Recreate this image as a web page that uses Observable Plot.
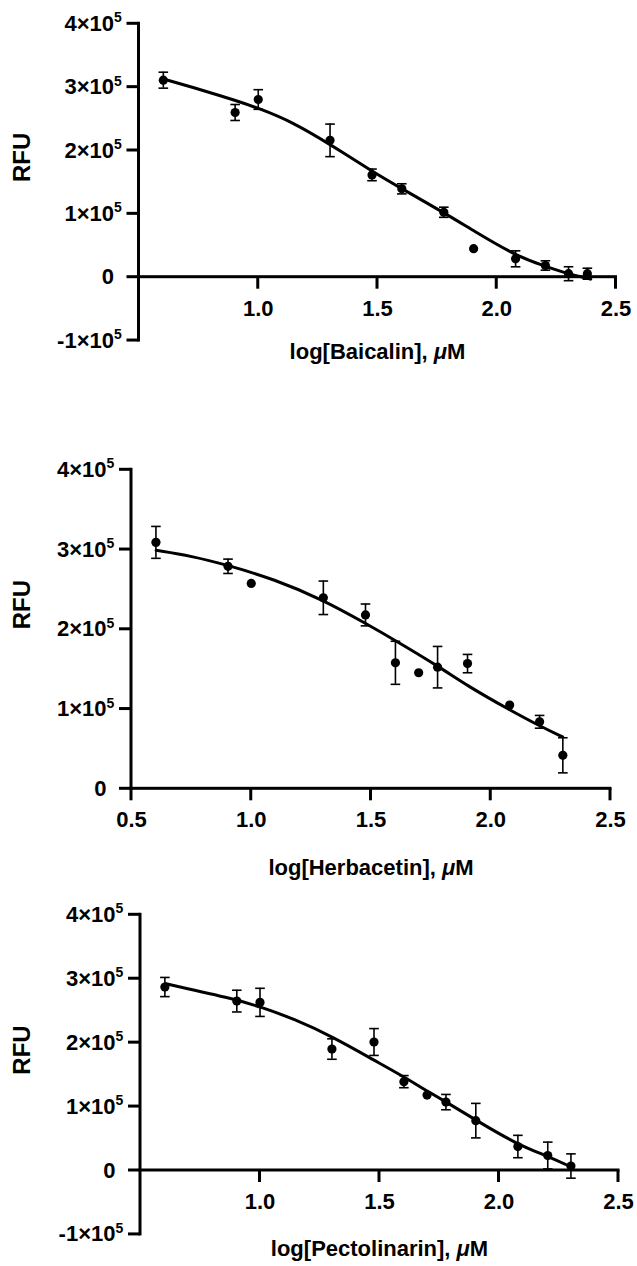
<!DOCTYPE html>
<html>
<head>
<meta charset="utf-8">
<script src="https://cdn.jsdelivr.net/npm/d3@7"></script>
<script src="https://cdn.jsdelivr.net/npm/@observablehq/plot@0.6"></script>
<style>
html, body { margin: 0; padding: 0; background: #fff; }
#chart svg { display: block; }
</style>
</head>
<body>
<div id="chart"></div>
<script>
// ---------- data ----------
// Panel 1: Baicalin
const xBaicalin   = [0.602, 0.903, 1.000, 1.301, 1.477, 1.602, 1.778, 1.903, 2.079, 2.204, 2.301, 2.380];
const rfuBaicalin = [311000, 260000, 280500, 216000, 161500, 139500, 102500, 45000, 29000, 18500, 5500, 5500];
const sdBaicalin  = [12600, 12600, 15500, 25700, 9200, 8000, 8000, 0, 12600, 7400, 11000, 8700];
const fitXBaicalin = [0.601, 0.786, 0.905, 1.000, 1.149, 1.300, 1.478, 1.600, 1.778, 1.904, 2.079, 2.204, 2.302, 2.393];
const fitYBaicalin = [313000, 293000, 279000, 267000, 244000, 210000, 167000, 140000, 102000, 73000, 34000, 17000, 5000, -3000];

// Panel 2: Herbacetin
const xHerbacetin   = [0.602, 0.903, 1.000, 1.301, 1.477, 1.602, 1.699, 1.778, 1.903, 2.079, 2.204, 2.301];
const rfuHerbacetin = [309000, 279000, 257500, 239500, 218000, 158000, 145500, 152500, 157000, 105000, 84000, 42000];
const sdHerbacetin  = [20000, 9000, 0, 21000, 13700, 27000, 0, 26000, 11500, 0, 8000, 22000];
const fitXHerbacetin = [0.603, 0.750, 0.906, 1.094, 1.300, 1.480, 1.602, 1.790, 1.903, 2.078, 2.203, 2.300];
const fitYHerbacetin = [299000, 292000, 280000, 263000, 237000, 207000, 186000, 152000, 129000, 99000, 79000, 65000];

// Panel 3: Pectolinarin
const xPectolinarin   = [0.602, 0.903, 1.000, 1.301, 1.477, 1.602, 1.699, 1.778, 1.903, 2.079, 2.204, 2.301];
const rfuPectolinarin = [287000, 265000, 263000, 190000, 201000, 139000, 118000, 107000, 78000, 37500, 23400, 7000];
const sdPectolinarin  = [15000, 17000, 22000, 16000, 21000, 9500, 0, 12000, 27000, 17500, 21000, 19000];
const fitXPectolinarin = [0.607, 0.907, 1.000, 1.144, 1.305, 1.480, 1.605, 1.700, 1.780, 1.907, 2.080, 2.207, 2.305];
const fitYPectolinarin = [292000, 267000, 256000, 237000, 209000, 172000, 146000, 124000, 107000, 78000, 40000, 22000, 5000];

// axis ticks and labels
const yTicksWithNegative = [-100000, 0, 100000, 200000, 300000, 400000];
const yTicksPositive     = [0, 100000, 200000, 300000, 400000];
const xTicksFrom1 = [1.0, 1.5, 2.0, 2.5];
const xTicksFrom05 = [0.5, 1.0, 1.5, 2.0, 2.5];
const compounds = ["Baicalin", "Herbacetin", "Pectolinarin"];
const yAxisTitle = "RFU";
const exponent = "5";
const unitMu = "μ";
const unitM = "M";

// ---------- layout (pixels) ----------
const panels = [
  {name: compounds[0], xs: xBaicalin, ys: rfuBaicalin, sd: sdBaicalin, fx: fitXBaicalin, fy: fitYBaicalin,
   yTicks: yTicksWithNegative, xTicks: xTicksFrom1, yMin: -100000,
   height: 380, ml: 138.5, mr: 21.5, mt: 23.3, mb: 103.3, titleDy: 82, rfuDy: 31.5},
  {name: compounds[1], xs: xHerbacetin, ys: rfuHerbacetin, sd: sdHerbacetin, fx: fitXHerbacetin, fy: fitYHerbacetin,
   yTicks: yTicksPositive, xTicks: xTicksFrom05, yMin: 0,
   height: 510, ml: 131, mr: 27, mt: 89.3, mb: 101.7, titleDy: 86, rfuDy: 0},
  {name: compounds[2], xs: xPectolinarin, ys: rfuPectolinarin, sd: sdPectolinarin, fx: fitXPectolinarin, fy: fitYPectolinarin,
   yTicks: yTicksWithNegative, xTicks: xTicksFrom1, yMin: -100000,
   height: 376, ml: 140, mr: 19, mt: 24.3, mb: 96, titleDy: 85, rfuDy: 32}
];

const capSymbol = {
  draw(context, size) {
    const h = Math.sqrt(size / Math.PI);
    context.moveTo(-h, 0);
    context.lineTo(h, 0);
  }
};

const fontFamily = "'Liberation Sans', Arial, Helvetica, sans-serif";
const measure = document.createElement("canvas").getContext("2d");
const AX = 1.5;   // half of the 3px axis line width
const TICK = 12;  // tick length in px

function makePanel(p) {
  const pts = p.xs.map((x, i) => ({x, y: p.ys[i], sd: p.sd[i]}));
  const bars = pts.filter(d => d.sd > 0);
  const caps = bars.flatMap(d => [{x: d.x, y: d.y + d.sd}, {x: d.x, y: d.y - d.sd}]);
  const fit = p.fx.map((x, i) => ({x, y: p.fy[i]}));
  const titleMain = `log[${p.name}],`;

  measure.font = `bold 22px ${fontFamily}`;
  const wA = measure.measureText(titleMain).width;
  const wSp = measure.measureText(" ").width;
  const wM = measure.measureText(unitM).width;
  measure.font = `italic bold 22px ${fontFamily}`;
  const wMu = measure.measureText(unitMu).width;
  const left = -(wA + wSp + wMu + wM) / 2;

  return Plot.plot({
    width: 637,
    height: p.height,
    marginLeft: p.ml, marginRight: p.mr, marginTop: p.mt, marginBottom: p.mb,
    x: {domain: [0.5, 2.5], axis: null, label: null},
    y: {domain: [0, 400000], axis: null, label: null},
    style: {fontFamily, fontWeight: "bold", fontSize: "22px", color: "black", background: "white", overflow: "visible"},
    marks: [
      // axis lines as filled bars (3px)
      Plot.rect([0], {x1: 0.5, x2: 0.5, y1: p.yMin, y2: 400000, fill: "black",
        insetLeft: -AX, insetRight: -AX, insetTop: -AX, insetBottom: -AX}),
      Plot.rect([0], {x1: 0.5, x2: 2.5, y1: 0, y2: 0, fill: "black",
        insetLeft: -AX, insetRight: -AX, insetTop: -AX, insetBottom: -AX}),
      // tick marks
      Plot.rect(p.yTicks, {x1: 0.5, x2: 0.5, y1: d => d, y2: d => d, fill: "black",
        insetLeft: -TICK, insetRight: 0, insetTop: -AX, insetBottom: -AX}),
      Plot.rect(p.xTicks, {x1: d => d, x2: d => d, y1: 0, y2: 0, fill: "black",
        insetLeft: -AX, insetRight: -AX, insetTop: 0, insetBottom: -TICK}),
      // tick labels
      Plot.axisY(p.yTicks, {anchor: "left", tickSize: 0, tickPadding: 25, label: null,
        tickFormat: d => d === 0 ? "0" : `${d / 100000}×10`}),
      Plot.text(p.yTicks.filter(d => d !== 0), {y: d => d, frameAnchor: "left", text: () => exponent,
        textAnchor: "start", dx: -25, dy: -6, fontSize: 14}),
      Plot.axisX(p.xTicks, {anchor: "bottom", tickSize: 0, tickPadding: 23, label: null,
        tickFormat: d => d.toFixed(1)}),
      // data
      Plot.ruleX(bars, {x: "x", y1: d => d.y - d.sd, y2: d => d.y + d.sd, stroke: "black", strokeWidth: 1.6}),
      Plot.dot(caps, {x: "x", y: "y", r: 4.8, symbol: capSymbol, stroke: "black", strokeWidth: 1.6, fill: "none"}),
      Plot.line(fit, {x: "x", y: "y", curve: "basis", stroke: "black", strokeWidth: 3}),
      Plot.dot(pts, {x: "x", y: "y", r: 4.6, fill: "black", stroke: "none"}),
      // axis titles
      Plot.text([titleMain], {frameAnchor: "bottom", dx: left, dy: p.titleDy, text: d => d, textAnchor: "start", fontSize: 22}),
      Plot.text([unitMu], {frameAnchor: "bottom", dx: left + wA + wSp, dy: p.titleDy, text: d => d, textAnchor: "start", fontSize: 22, fontStyle: "italic"}),
      Plot.text([unitM], {frameAnchor: "bottom", dx: left + wA + wSp + wMu, dy: p.titleDy, text: d => d, textAnchor: "start", fontSize: 22}),
      Plot.text([yAxisTitle], {frameAnchor: "left", dx: 21.5 - p.ml, dy: p.rfuDy, rotate: -90, text: d => d, fontSize: 24})
    ]
  });
}

const root = document.getElementById("chart");
panels.forEach(p => root.appendChild(makePanel(p)));
</script>
</body>
</html>
